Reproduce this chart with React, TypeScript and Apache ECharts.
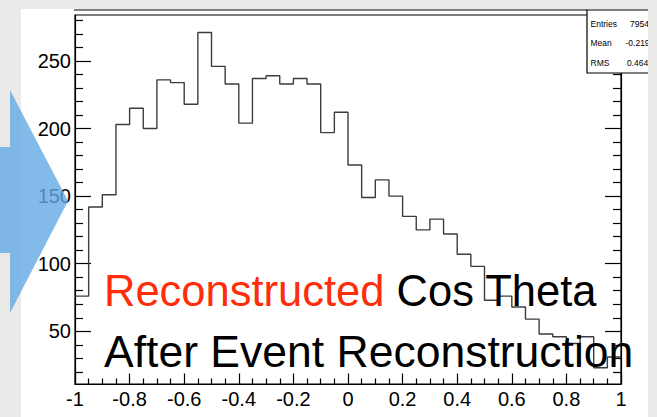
import React, { useEffect, useRef } from "react";
import * as echarts from "echarts";

// Histogram of reconstructed cos(theta): 40 bins from -1 to 1
const binEdges = [
  -1, -0.95, -0.9, -0.85, -0.8, -0.75, -0.7, -0.65, -0.6, -0.55,
  -0.5, -0.45, -0.4, -0.35, -0.3, -0.25, -0.2, -0.15, -0.1, -0.05,
  0, 0.05, 0.1, 0.15, 0.2, 0.25, 0.3, 0.35, 0.4, 0.45,
  0.5, 0.55, 0.6, 0.65, 0.7, 0.75, 0.8, 0.85, 0.9, 0.95, 1,
];
const counts = [
  76, 142, 151, 203, 215, 200, 236, 234, 218, 271,
  246, 233, 204, 237, 239, 233, 237, 233, 197, 212,
  173, 149, 162, 150, 135, 125, 133, 122, 107, 98,
  73, 76, 68, 59, 48, 46, 41, 46, 23, 31,
];

const xTickLabels = [-1, -0.8, -0.6, -0.4, -0.2, 0, 0.2, 0.4, 0.6, 0.8, 1];
const xMinorTicks = [
  -0.95, -0.9, -0.85, -0.75, -0.7, -0.65, -0.55, -0.5, -0.45, -0.35, -0.3, -0.25,
  -0.15, -0.1, -0.05, 0.05, 0.1, 0.15, 0.25, 0.3, 0.35, 0.45, 0.5, 0.55,
  0.65, 0.7, 0.75, 0.85, 0.9, 0.95,
];
const yTickLabels = [50, 100, 150, 200, 250];
const yMinorTicks = [20, 30, 40, 60, 70, 80, 90, 110, 120, 130, 140, 160, 170, 180, 190, 210, 220, 230, 240, 260, 270, 280];
const yMin = 11;
const yMax = 284;

const statsLabels = ["Entries", "Mean", "RMS"];
const statsValues = ["7954", "-0.2195", "0.464"];

const titleRed = "Reconstructed";
const titleBlack = " Cos Theta";
const subtitle = "After Event Reconstruction";

const FONT = "'Liberation Sans', Arial, Helvetica, sans-serif";
const GRAY = "#eaeae8";

export default function App() {
  const ref = useRef<HTMLDivElement>(null);

  useEffect(() => {
    if (!ref.current) return;
    const chart = echarts.init(ref.current, undefined, { renderer: "svg" });

    const histData: number[][] = counts.map((c, i) => [binEdges[i], c]);
    histData.push([binEdges[binEdges.length - 1], counts[counts.length - 1]]);

    const axisLineStyle = { color: "#000", width: 1.2 };
    const fmt = (v: number) => String(Math.round(v * 10) / 10);

    const yCommon = {
      type: "value" as const,
      min: yMin,
      max: yMax,
      splitLine: { show: false },
    };
    const xCommon = {
      type: "value" as const,
      min: -1,
      max: 1,
      splitLine: { show: false },
    };

    const statsX = 587;
    const statsY = 10;
    const statsRowY = [23.7, 43, 62.7];
    const statsValX = [630, 625.5, 627];

    chart.setOption({
      animation: false,
      backgroundColor: "#ffffff",
      grid: {
        left: 75,
        right: 36,
        top: 15,
        bottom: 33,
        show: true,
        borderColor: "#000",
        borderWidth: 1.2,
        backgroundColor: "transparent",
      },
      xAxis: [
        {
          ...xCommon,
          position: "bottom",
          axisLine: { show: true, onZero: false, lineStyle: axisLineStyle },
          axisTick: {
            show: true,
            inside: true,
            length: 10.5,
            customValues: xTickLabels,
            lineStyle: axisLineStyle,
          },
          axisLabel: {
            show: true,
            customValues: xTickLabels,
            formatter: fmt,
            margin: 5,
            color: "#000",
            fontSize: 20,
            fontFamily: FONT,
          },
        },
        {
          ...xCommon,
          position: "bottom",
          axisLine: { show: false, onZero: false },
          axisTick: {
            show: true,
            inside: true,
            length: 5.5,
            customValues: xMinorTicks,
            lineStyle: axisLineStyle,
          },
          axisLabel: { show: false },
        },
      ],
      yAxis: [
        {
          ...yCommon,
          position: "left",
          axisLine: { show: true, onZero: false, lineStyle: axisLineStyle },
          axisTick: {
            show: true,
            inside: true,
            length: 16,
            customValues: yTickLabels,
            lineStyle: axisLineStyle,
          },
          axisLabel: {
            show: true,
            customValues: yTickLabels,
            margin: 4,
            color: "#000",
            fontSize: 20,
            fontFamily: FONT,
          },
        },
        {
          ...yCommon,
          position: "left",
          axisLine: { show: false, onZero: false },
          axisTick: {
            show: true,
            inside: true,
            length: 8,
            customValues: yMinorTicks,
            lineStyle: axisLineStyle,
          },
          axisLabel: { show: false },
        },
        {
          ...yCommon,
          position: "right",
          axisLine: { show: true, onZero: false, lineStyle: axisLineStyle },
          axisTick: {
            show: true,
            inside: true,
            length: 16,
            customValues: yTickLabels,
            lineStyle: axisLineStyle,
          },
          axisLabel: { show: false },
        },
        {
          ...yCommon,
          position: "right",
          axisLine: { show: false, onZero: false },
          axisTick: {
            show: true,
            inside: true,
            length: 8,
            customValues: yMinorTicks,
            lineStyle: axisLineStyle,
          },
          axisLabel: { show: false },
        },
      ],
      series: [
        {
          type: "line",
          xAxisIndex: 0,
          yAxisIndex: 0,
          step: "end",
          data: histData,
          symbol: "none",
          clip: true,
          z: 3,
          lineStyle: { color: "#3c3c3c", width: 1.4 },
        },
      ],
      graphic: [
        // title-box bottom edge
        {
          type: "line",
          z: 30,
          shape: { x1: 74, y1: 10, x2: statsX, y2: 10 },
          style: { stroke: "#000", lineWidth: 1.2 },
        },
        // stats box
        {
          type: "rect",
          z: 40,
          shape: { x: statsX, y: statsY, width: 90, height: 63 },
          style: { fill: "#fff", stroke: "#000", lineWidth: 1.2 },
        },
        ...statsLabels.map((t, i) => ({
          type: "text",
          z: 41,
          style: {
            x: 590.5,
            y: statsRowY[i],
            text: t,
            fill: "#000",
            font: `8.5px ${FONT}`,
            verticalAlign: "middle",
            align: "left",
          },
        })),
        ...statsValues.map((t, i) => ({
          type: "text",
          z: 41,
          style: {
            x: statsValX[i],
            y: statsRowY[i],
            text: t,
            fill: "#000",
            font: `8.5px ${FONT}`,
            verticalAlign: "middle",
            align: "left",
          },
        })),
        // overlay titles
        {
          type: "text",
          z: 45,
          style: {
            x: 104,
            y: 291,
            text: `{r|${titleRed}}{b|${titleBlack}}`,
            verticalAlign: "middle",
            align: "left",
            rich: {
              r: { fill: "#ff2d0a", font: `43.5px ${FONT}` },
              b: { fill: "#000", font: `43.5px ${FONT}` },
            },
          },
        },
        {
          type: "text",
          z: 45,
          style: {
            x: 104,
            y: 351.5,
            text: subtitle,
            fill: "#000",
            font: `44.5px ${FONT}`,
            verticalAlign: "middle",
            align: "left",
          },
        },
        // gray page surround
        { type: "rect", z: 50, shape: { x: 0, y: 0, width: 657, height: 9 }, style: { fill: GRAY } },
        { type: "rect", z: 50, shape: { x: 0, y: 0, width: 21, height: 417 }, style: { fill: GRAY } },
        { type: "rect", z: 50, shape: { x: 648, y: 0, width: 9, height: 417 }, style: { fill: GRAY } },
        // blue arrow
        {
          type: "polygon",
          z: 60,
          shape: {
            points: [
              [0, 147],
              [10, 147],
              [10, 90],
              [68, 201],
              [10, 313],
              [10, 253],
              [0, 253],
            ],
          },
          style: { fill: "#63aae5", opacity: 0.8 },
        },
      ],
    });

    return () => {
      chart.dispose();
    };
  }, []);

  return (
    <div
      ref={ref}
      style={{ position: "absolute", left: 0, top: 0, width: 657, height: 417 }}
    />
  );
}
